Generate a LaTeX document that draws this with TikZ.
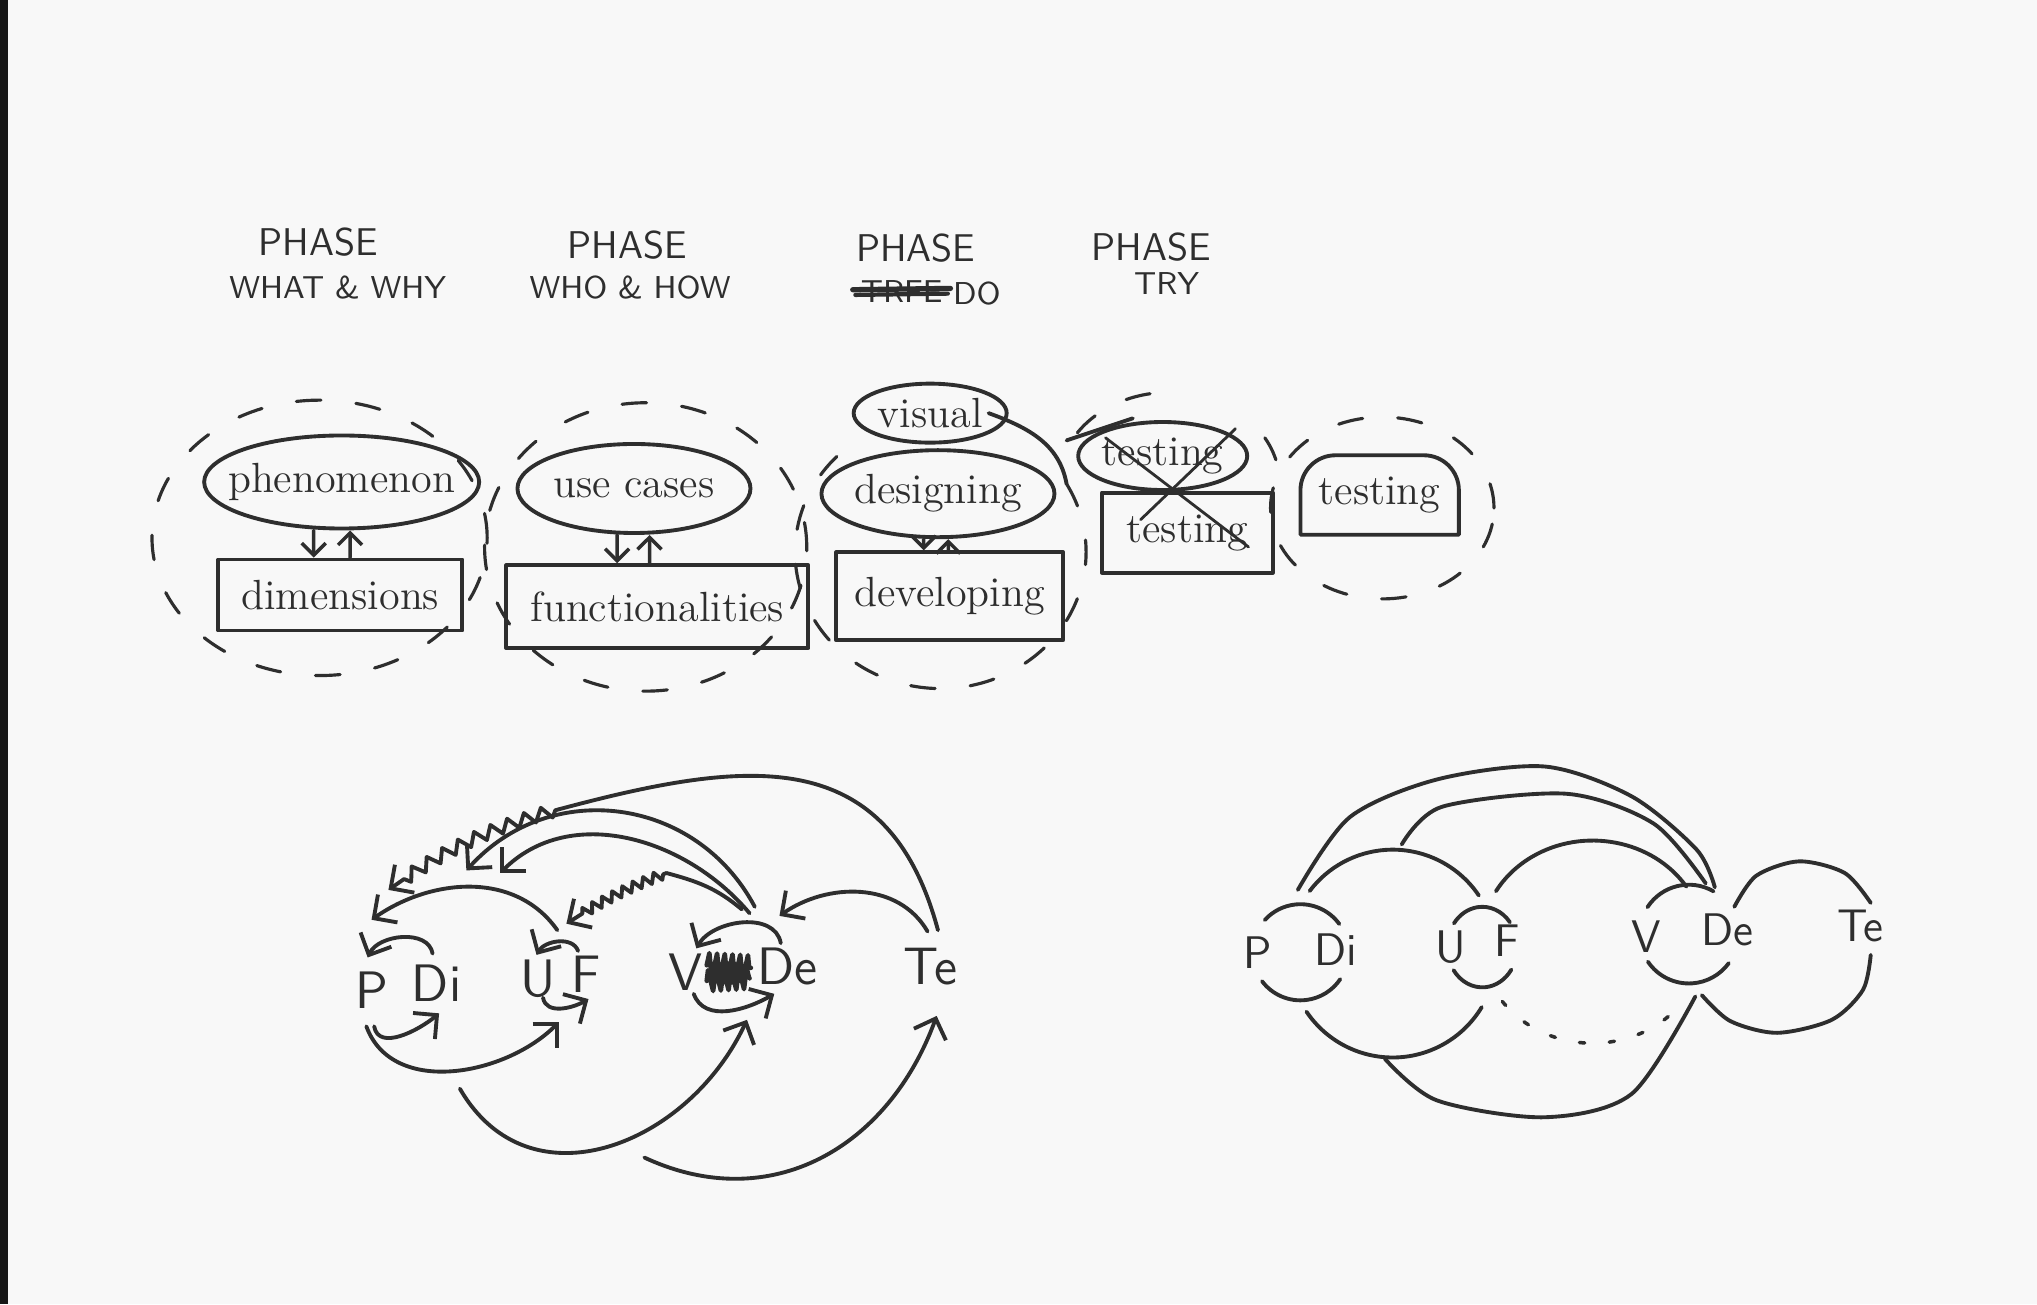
\documentclass[tikz,border=0pt]{standalone}
\usepackage{tikz}
\usetikzlibrary{shapes.geometric,arrows.meta,decorations.pathmorphing}

\definecolor{inkc}{HTML}{2E2E2E}
\definecolor{paper}{HTML}{F8F8F8}
\newcommand{\wordfont}{\fontsize{12}{14}\selectfont}
\newcommand{\headfont}{\fontsize{11}{13}\selectfont\sffamily}
\newcommand{\subfont}{\fontsize{9}{11}\selectfont\sffamily}
\newcommand{\labfont}{\fontsize{15}{17}\selectfont\sffamily}
\newcommand{\rlabfont}{\fontsize{13}{15}\selectfont\sffamily}
\newcommand{\nowide}[1]{\makebox[0pt]{#1}}

\tikzset{
	ink/.style={draw=inkc, line width=1.1pt, line cap=round, line join=round},
	idea/.style={ellipse, ink, inner sep=0pt, font=\wordfont, text=inkc},
	part/.style={rectangle, ink, inner sep=0pt, font=\wordfont, text=inkc},
	ring/.style={draw=inkc, line width=0.9pt, line cap=round, dash pattern=on 7pt off 10pt},
	dotline/.style={draw=inkc, line width=1pt, line cap=round, dash pattern=on 1.5pt off 7pt},
	phasehead/.style={font=\headfont, text=inkc, inner sep=1pt},
	subhead/.style={font=\subfont, text=inkc, inner sep=1pt},
	lab/.style={font=\labfont, text=inkc, inner sep=1pt},
	rlab/.style={font=\rlabfont, text=inkc, inner sep=1pt},
	link/.style={ink, ->},
	small link/.style={ink, line width=1pt, -{Straight Barb[length=1.2mm,width=2.4mm]}},
	strike/.style={draw=inkc, line width=0.8pt, line cap=round},
	wig/.style={decorate, decoration={zigzag, amplitude=1.8pt, segment length=5pt, pre length=1pt, post length=5pt}},
}

\begin{document}
\begin{tikzpicture}[x=0.1299mm, y=0.1299mm, >={Straight Barb[length=1.7mm,width=3.4mm]}]
	\useasboundingbox (0,0) rectangle (1568,-1004);
	\fill[paper] (0,0) rectangle (1568,-1004);
	\fill[inkc!50!black] (0,0) rectangle (6,-1004);

	%HEADINGS
	\node[phasehead] (ph1) at (245,-186) {PHASE};
	\node[subhead] (sub1) at (260,-221) {WHAT \& WHY};
	\node[phasehead] (ph2) at (483,-189) {PHASE};
	\node[subhead] (sub2) at (485,-221) {WHO \& HOW};
	\node[phasehead] (ph3) at (705,-191) {PHASE};
	\node[subhead] (sub3x) at (694,-224) {TRFE};
	\node[subhead] (sub3) at (752,-226) {DO};
		\draw[ink, line width=1.5pt] ([shift={(-3,1)}]sub3x.west) -- ([shift={(3,2)}]sub3x.east);
		\draw[ink, line width=1.2pt] ([shift={(-1,-3)}]sub3x.west) -- ([shift={(1,-2)}]sub3x.east);
	\node[phasehead] (ph4) at (886,-190) {PHASE};
	\node[subhead] (sub4) at (898,-218) {TRY};

	%CLUSTERS
	\draw[ring] (246,-414) ellipse [x radius=129, y radius=106];
	\node[idea, minimum width=2.75cm, minimum height=0.93cm] (phen) at (263,-371) {\nowide{phenomenon}};
	\node[part, minimum width=2.44cm, minimum height=0.71cm] (dim) at (262,-458) {dimensions};
		\draw[small link] ([xshift=-2.8mm]phen.south) -- ([xshift=-2.66mm]dim.north);
		\draw[small link] ([xshift=0.97mm]dim.north) -- ([xshift=0.84mm]phen.south);
	%
	\draw[ring] (497,-421) ellipse [x radius=124, y radius=111];
	\node[idea, minimum width=2.33cm, minimum height=0.89cm] (usec) at (488,-376) {\nowide{use cases}};
	\node[part, minimum width=3.02cm, minimum height=0.83cm] (func) at (506,-467) {functionalities};
		\draw[small link] ([xshift=-1.69mm]usec.south) -- ([xshift=-4.03mm]func.north);
		\draw[small link] ([xshift=-0.78mm]func.north) -- ([xshift=1.56mm]usec.south);
	%
	\draw[ring] ([shift={(30:112 and 105)}]724,-425) arc[start angle=30, end angle=-230, x radius=112, y radius=105];
	\node[idea, minimum width=1.53cm, minimum height=0.59cm] (vis) at (716,-318) {\nowide{visual}};
	\node[idea, minimum width=2.33cm, minimum height=0.87cm] (des) at (722,-380) {\nowide{designing}};
	\node[part, minimum width=2.27cm, minimum height=0.88cm] (dev) at (731,-459) {developing};
		\draw[small link] ([xshift=-1.43mm]des.south) -- ([xshift=-2.6mm]dev.north);
		\draw[small link] ([xshift=-0.13mm]dev.north) -- ([xshift=1.04mm]des.south);
		\draw[ink] ([xshift=-2mm]vis.east) to[out=-20, in=100] ([shift={(30:112 and 105)}]724,-425);
	%
	\draw[ring] ([shift={(100:85 and 70)}]900,-372) arc[start angle=100, end angle=160, x radius=85, y radius=70];
	\draw[ring] ([shift={(15:85 and 70)}]900,-372) arc[start angle=15, end angle=35, x radius=85, y radius=70];
	\node[idea, minimum width=1.69cm, minimum height=0.68cm] (tst) at (895,-351) {\nowide{testing}};
	\node[part, minimum width=1.71cm, minimum height=0.8cm] (tbx) at (914,-410) {testing};
		\draw[ink] (821,-339) -- (872,-322);
		\draw[strike] (851,-337) -- (961,-421);
		\draw[strike] (951,-330) -- (878,-400);
	%
	\draw[ring] (1064,-391) ellipse [x radius=86, y radius=70];
	\node[font=\wordfont, text=inkc, inner sep=0pt, minimum width=1.57cm, minimum height=0.78cm] (dome) at (1062,-381) {testing};
		\draw[ink] (dome.south west) -- ([yshift=-3.5mm]dome.north west) arc[start angle=180, end angle=90, radius=3.5mm]
			-- ([xshift=-3.5mm]dome.north east) arc[start angle=90, end angle=0, radius=3.5mm] -- (dome.south east) -- cycle;

	%LEFT GRAPH
	\node[lab] (lp) at (286,-762) {P};
	\node[lab] (ldi) at (336,-757) {Di};
	\node[lab] (lu) at (414,-753) {U};
	\node[lab] (lf) at (451,-750) {F};
	\node[lab] (lv) at (528,-748) {V};
	\node[lab] (lde) at (606,-744) {De};
	\node[lab] (lte) at (716,-744) {Te};
	%scribble
	\fill[inkc] (561,-749) ellipse [x radius=15, y radius=9];
	\draw[ink, line width=1.3pt, decorate, decoration={zigzag, segment length=2.2pt, amplitude=3.5pt}] (544,-743) -- (578,-745);
	\draw[ink, line width=1.3pt, decorate, decoration={zigzag, segment length=2.2pt, amplitude=3pt}] (544,-755) -- (577,-753);
	%loops
	\draw[link] ([shift={(-3,23)}]ldi.center) to[out=100,in=65] ([shift={(-3,25)}]lp.center);
	\draw[link] ([shift={(2,-28)}]lp.center) to[out=-80,in=-140] ([shift={(2,-23)}]ldi.center);
	\draw[link] ([shift={(-6,18)}]lf.center) to[out=110,in=60] ([shift={(-1,18)}]lu.center);
	\draw[link] ([shift={(4,-15)}]lu.center) to[out=-80,in=-150] ([shift={(2,-19)}]lf.center);
	\draw[link] ([shift={(-5,18)}]lde.center) to[out=100,in=60] ([shift={(8,18)}]lv.center);
	\draw[link] ([shift={(6,-17)}]lv.center) to[out=-70,in=-150] ([shift={(-10,-21)}]lde.center);
	%below
	\draw[link] ([shift={(-4,-28)}]lp.center) to[out=-70,in=-135] ([shift={(-21,-37)}]lf.center);
	\coordinate (dfree) at (354,-838);
	\draw[link] (dfree) to[out=-60,in=-115,looseness=1.2] ([shift={(-31,-41)}]lde.center);
	\coordinate (efree) at (496,-891);
	\draw[link] (efree) to[out=-25,in=-110,looseness=1.1] ([shift={(5,-38)}]lte.center);
	%above
	\draw[link] ([shift={(15,37)}]lu.center) to[out=125,in=35] ([shift={(0,54)}]lp.center);
	\draw[link] ([shift={(-2,27)}]lte.center) to[out=120,in=35] ([shift={(-6,39)}]lde.center);
	\coordinate (zigA) at (430,-623);
	\draw[ink] ([shift={(6,28)}]lte.center) to[out=105,in=15,looseness=1.25] (zigA);
	\draw[link, wig] (zigA) to[bend right=10] ([shift={(13,77)}]lp.center);
	\coordinate (mtip) at (359,-670);
	\draw[link] ([shift={(-25,46)}]lde.center) to[out=118,in=48,looseness=1.1] (mtip);
	\coordinate (ntip) at (385,-672);
	\draw[link] ([shift={(-29,41)}]lde.center) to[out=130,in=45] (ntip);
	\coordinate (zigB) at (513,-672);
	\draw[ink] ([shift={(-35,44)}]lde.center) to[out=140,in=-15] (zigB);
	\draw[link, wig, decoration={amplitude=1.4pt, segment length=3.2pt}] (zigB) to[bend right=6] ([shift={(-15,39)}]lf.center);

	%RIGHT GRAPH
	\node[rlab] (rp) at (968,-733) {P};
	\node[rlab] (rdi) at (1028,-731) {Di};
	\node[rlab] (ru) at (1117,-729) {U};
	\node[rlab] (rf) at (1160,-724) {F};
	\node[rlab] (rv) at (1267,-721) {V};
	\node[rlab] (rde) at (1330,-716) {De};
	\node[rlab] (rte) at (1432,-713) {Te};
	\coordinate (pdi) at (1001,-733);
	\coordinate (uf) at (1141,-729);
	\coordinate (vde) at (1300,-719);
	\coordinate (diu) at (1072,-734);
	\coordinate (fde) at (1226,-725);
	%rings
	\draw[ink] ([shift={(36:37)}]pdi) arc[start angle=36, end angle=138, radius=37];
	\draw[ink] ([shift={(217:37)}]pdi) arc[start angle=217, end angle=326, radius=37];
	\draw[ink] ([shift={(38:27 and 31)}]uf) arc[start angle=38, end angle=144, x radius=27, y radius=31];
	\draw[ink] ([shift={(215:27 and 31)}]uf) arc[start angle=215, end angle=326, x radius=27, y radius=31];
	\draw[ink] ([shift={(60:38)}]vde) arc[start angle=60, end angle=147, radius=38];
	\draw[ink] ([shift={(214:38)}]vde) arc[start angle=214, end angle=324, radius=38];
	\draw[ink] ([shift={(34:80)}]diu) arc[start angle=34, end angle=143, radius=80];
	\draw[ink] ([shift={(214:80)}]diu) arc[start angle=214, end angle=329, radius=80];
	\draw[ink] ([shift={(33:86 and 78)}]fde) arc[start angle=33, end angle=150, x radius=86, y radius=78];
	\draw[dotline] ([shift={(216:86 and 78)}]fde) arc[start angle=216, end angle=322, x radius=86, y radius=78];
	\draw[ink] plot[smooth] coordinates {(1335,-698) (1352,-674) (1385,-663) (1420,-672) (1440,-695)};
	\draw[ink] plot[smooth] coordinates {(1310,-766) (1332,-786) (1368,-795) (1410,-785) (1434,-762) (1440,-735)};
	%long arcs
	\draw[ink] plot[smooth] coordinates {(999,-685) (1039,-629) (1106,-600) (1189,-590) (1256,-613) (1306,-654) (1320,-683)};
	\draw[ink] plot[smooth] coordinates {(1079,-650) (1110,-621) (1206,-611) (1273,-634) (1313,-680)};
	\draw[ink] plot[smooth] coordinates {(1066,-815) (1106,-847) (1189,-860) (1256,-842) (1305,-767)};

	%\draw[help lines] (0,0) grid[step=100] (1568,-1004);
\end{tikzpicture}
\end{document}
